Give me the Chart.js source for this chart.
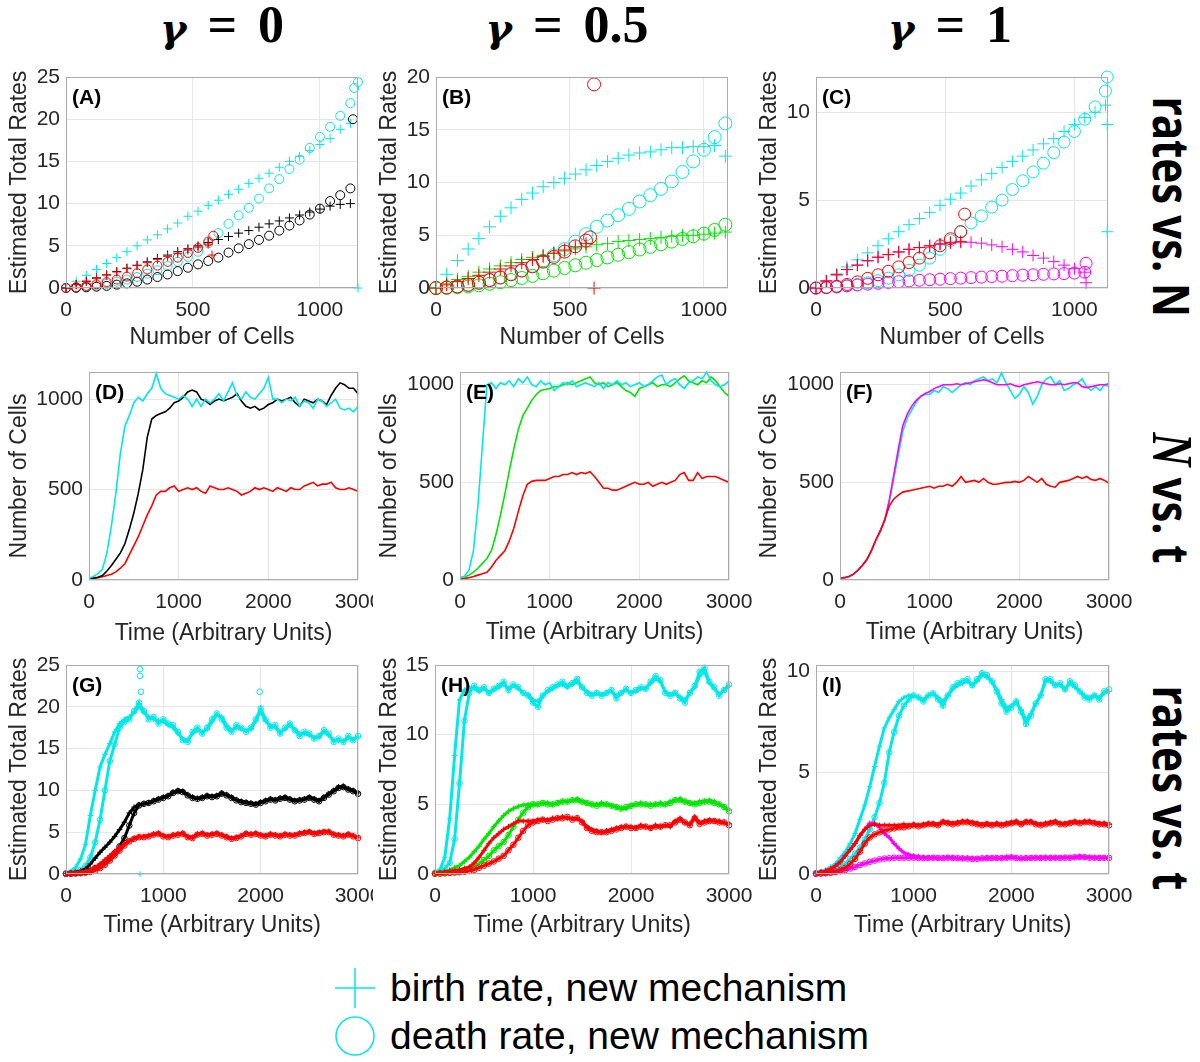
<!DOCTYPE html>
<html>
<head>
<meta charset="utf-8">
<script src="https://cdn.jsdelivr.net/npm/chart.js@4.4.1/dist/chart.umd.min.js"></script>
<style>
  body { margin: 0; background: #fff; }
  #fig { position: relative; width: 1200px; height: 1062px; overflow: hidden; background: #fff; }
  .col { position: absolute; top: 0; transform: translateX(-50%); font: bold 52px "Liberation Serif", serif; line-height: 50px; word-spacing: 8px; white-space: nowrap; color: #000; }
  .col i { font-family: "DejaVu Serif", serif; font-size: 40px; }
  .row { position: absolute; font: bold 50px "Noto Sans", sans-serif; line-height: 50px; white-space: nowrap; color: #000;
         transform: translate(-50%, -50%) rotate(90deg) scaleX(0.84); }
  .row i { font-family: "Liberation Serif", serif; font-size: 56px; }
  .leg { position: absolute; left: 390px; font: 39px "Liberation Sans", Arial, sans-serif; line-height: 39px; white-space: nowrap; color: #000; }
  canvas { position: absolute; }
</style>
</head>
<body>
<div id="fig">
  <div class="col" style="left:222px"><i>γ</i> = 0</div>
  <div class="col" style="left:567px"><i>γ</i> = 0.5</div>
  <div class="col" style="left:950px"><i>γ</i> = 1</div>

  <div class="row" style="left:1172px;top:207px">rates vs. N</div>
  <div class="row" style="left:1172px;top:498px"><i>N</i> vs. t</div>
  <div class="row" style="left:1172px;top:788px">rates vs. t</div>

  <svg style="position:absolute;left:335px;top:968px" width="40" height="40">
    <line x1="0" y1="20" x2="40" y2="20" stroke="rgb(0,232,232)" stroke-width="1.5"/>
    <line x1="20" y1="0" x2="20" y2="40" stroke="rgb(0,232,232)" stroke-width="1.5"/>
  </svg>
  <div class="leg" style="top:968px">birth rate, new mechanism</div>
  <svg style="position:absolute;left:334px;top:1015px" width="42" height="42">
    <circle cx="21" cy="21" r="19" fill="none" stroke="rgb(0,232,232)" stroke-width="1.5"/>
  </svg>
  <div class="leg" style="top:1016px">death rate, new mechanism</div>
</div>

<script>
// ---------- data ----------
// number of cells (x of the "rates vs. N" panels)
const N = [0,40,80,120,160,200,240,280,320,360,400,440,480,520,560,600,640,680,720,760,800,840,880,920,960,1000,1040,1080,1120];
// time (x of the "vs. t" panels)
const T = [0,50,100,150,200,250,300,350,400,450,
  500,550,600,650,700,750,800,850,900,950,
  1000,1050,1100,1150,1200,1250,1300,1350,1400,1450,
  1500,1550,1600,1650,1700,1750,1800,1850,1900,1950,
  2000,2050,2100,2150,2200,2250,2300,2350,2400,2450,
  2500,2550,2600,2650,2700,2750,2800,2850,2900,2950,
  3000];

// tick labels
const cellTicks = [0,500,1000];
const timeTicks = [0,1000,2000,3000];
const countTicks = [0,500,1000];
const rateTicks25 = [0,5,10,15,20,25];
const rateTicks20 = [0,5,10,15,20];
const rateTicks15 = [0,5,10,15];
const rateTicks10 = [0,5,10];

// (A) gamma = 0, rates vs N
const aBirthCyan = [0,0.8,1.5,2.2,2.9,3.6,4.3,5.0,5.7,6.3,7.0,7.7,8.5,9.1,9.8,10.4,11.1,11.7,12.4,13.0,13.6,14.3,15.0,15.6,16.3,17.0,17.7,18.8,19.5];
const aDeathCyan = [0,0.05,0.15,0.3,0.5,0.75,1.0,1.3,1.7,2.1,2.6,3.1,3.7,4.3,5.3,6.5,7.6,8.6,9.5,10.6,11.8,12.9,14.1,15.2,16.6,17.9,19.1,20.4,21.9];
const aBirthBlack = [0,0.4,0.8,1.2,1.55,1.95,2.35,2.7,3.1,3.5,3.9,4.3,4.65,5.0,5.4,5.75,6.1,6.5,6.8,7.2,7.6,7.95,8.3,8.65,9.0,9.35,9.7,9.9,10.0];
const aDeathBlack = [0,0.02,0.08,0.15,0.25,0.4,0.55,0.75,1.0,1.3,1.6,2.0,2.4,2.8,3.2,3.6,4.2,4.7,5.2,5.7,6.2,6.8,7.4,8.0,8.7,9.4,10.3,11.0,11.8];
const aBirthRed = [0,0.4,0.8,1.15,1.55,1.9,2.3,2.65,3.0,3.4,3.75,4.1,4.5,4.85,5.2];
const aDeathRed = [0,0.1,0.25,0.45,0.7,1.0,1.35,1.75,2.2,2.65,3.1,3.6,4.15,4.75,5.5];
const aOutCyanBirthN = [1150], aOutCyanBirth = [0];
const aOutCyanDeathN = [1135,1150], aOutCyanDeath = [23.7,24.4];
const aOutBlackDeathN = [1130], aOutBlackDeath = [20];
const aOutRedBirthN = [575], aOutRedBirth = [3.9];
const aOutRedDeathN = [580], aOutRedDeath = [6.2];

// (B) gamma = 0.5, rates vs N
const bBirthCyan = [0,1.3,2.6,3.7,4.7,5.8,6.8,7.6,8.4,9.0,9.6,10.0,10.4,10.8,11.2,11.6,12.0,12.3,12.6,12.8,12.9,13.1,13.3,13.3,13.4,13.4,13.5,12.5];
const bDeathCyan = [0,0.05,0.15,0.3,0.5,0.75,1.0,1.35,1.7,2.1,2.6,3.1,3.7,4.4,5.1,5.8,6.4,6.9,7.5,8.2,8.8,9.4,10.1,11.0,12.0,13.1,14.3,15.6];
const bBirthGreen = [0,0.4,0.8,1.1,1.5,1.8,2.1,2.4,2.7,2.9,3.1,3.3,3.5,3.7,3.9,4.1,4.2,4.4,4.5,4.6,4.7,4.8,4.9,5.0,5.0,5.1,5.2,5.3];
const bDeathGreen = [0,0.02,0.08,0.15,0.25,0.4,0.55,0.75,0.95,1.15,1.4,1.65,1.9,2.15,2.4,2.65,2.9,3.15,3.4,3.65,3.9,4.15,4.4,4.65,4.9,5.15,5.5,6.0];
const bBirthRed = [0,0.3,0.6,0.9,1.2,1.5,1.8,2.1,2.4,2.7,3.0,3.3,3.6,3.9,4.2];
const bDeathRed = [0,0.05,0.15,0.3,0.5,0.75,1.0,1.3,1.65,2.05,2.5,2.95,3.45,3.95,4.5];
const bOutRedBirthN = [590], bOutRedBirth = [0];
const bOutRedDeathN = [575,590], bOutRedDeath = [4.8,19.3];

// (C) gamma = 1, rates vs N
const cBirthCyan = [0,0.4,0.8,1.2,1.6,2.0,2.4,2.8,3.2,3.6,3.95,4.3,4.7,5.05,5.4,5.8,6.15,6.5,6.85,7.2,7.5,7.85,8.2,8.5,8.9,9.3,9.7,10.0,10.4];
const cDeathCyan = [0,0.02,0.06,0.12,0.2,0.3,0.42,0.56,0.75,1.0,1.3,1.7,2.2,2.7,3.2,3.7,4.1,4.6,5.0,5.6,6.1,6.6,7.1,7.7,8.3,8.9,9.6,10.3,11.2];
const cBirthRed = [0,0.4,0.75,1.05,1.3,1.55,1.75,1.9,2.05,2.2,2.3,2.4,2.5,2.6,2.65];
const cDeathRed = [0,0.03,0.1,0.2,0.35,0.55,0.75,0.95,1.2,1.45,1.7,2.0,2.4,2.8,3.2];
const cBirthMagenta = [0,0.4,0.75,1.05,1.3,1.55,1.75,1.9,2.05,2.2,2.3,2.4,2.5,2.55,2.6,2.6,2.55,2.45,2.35,2.2,2.05,1.85,1.7,1.5,1.3,1.1,0.9];
const cDeathMagenta = [0,0.03,0.07,0.12,0.17,0.22,0.27,0.32,0.36,0.4,0.44,0.47,0.5,0.53,0.56,0.59,0.62,0.65,0.67,0.7,0.73,0.75,0.78,0.8,0.82,0.85,0.9];
const cOutCyanBirthN = [1127,1127], cOutCyanBirth = [9.3,3.2];
const cOutCyanDeathN = [1127], cOutCyanDeath = [12.0];
const cOutRedDeathN = [575], cOutRedDeath = [4.2];
const cOutMagBirthN = [1045], cOutMagBirth = [0.3];
const cOutMagDeathN = [1045], cOutMagDeath = [1.4];

// (D) gamma = 0, N vs t
const dCyan = [10,20,35,60,150,300,480,700,850,910,
  980,1010,990,1030,1060,1140,1060,1030,1020,1010,
  1000,1020,1000,960,1000,960,1000,980,1000,1030,
  990,1040,1090,1020,1000,1040,1010,1000,1030,1060,
  1120,1000,1000,980,1000,990,1010,960,990,980,
  950,1000,990,960,980,1000,950,940,950,930,
  960];
const dBlack = [10,12,15,25,50,80,115,150,200,280,
  370,480,610,790,890,910,920,930,950,980,
  990,1010,1040,1050,1040,1000,990,970,990,1000,
  990,1000,1010,1030,990,960,950,960,940,950,
  970,980,1000,990,1000,1010,980,960,1000,990,
  980,1000,990,970,1020,1060,1090,1080,1060,1060,
  1030];
const dRed = [5,8,12,18,25,32,45,65,90,140,
  190,240,300,360,410,470,490,490,510,520,
  490,500,510,500,510,490,480,520,510,500,
  500,510,500,490,470,480,490,510,500,510,
  500,490,510,500,490,510,500,500,520,530,
  540,520,530,530,540,510,500,500,510,500,
  490];

// (E) gamma = 0.5, N vs t
const eCyan = [10,20,50,150,380,690,1000,1010,980,1010,
  1000,1020,990,1030,1010,1040,1000,990,1020,1000,
  1010,970,990,1010,1000,1020,990,1000,1010,1000,
  990,1010,980,1010,1000,1020,1000,1010,990,1000,
  1010,990,1000,1020,1040,1050,1000,1020,1030,1000,
  980,1010,1020,1040,1030,1065,1020,1000,990,1000,
  1020];
const eGreen = [10,15,25,40,60,85,110,150,230,330,
  440,560,670,770,840,880,920,950,970,975,
  980,990,990,1000,1010,1000,1010,1020,1030,1040,
  1010,1000,1010,990,1000,1010,990,970,960,940,
  980,990,1000,1010,990,1000,1000,990,1010,1030,
  1045,1020,1010,1000,1020,1010,1040,1020,990,960,
  940];
const eRed = [5,8,12,18,25,32,40,65,100,125,
  150,200,265,350,430,490,505,510,510,510,
  520,530,530,540,540,550,540,550,545,555,
  530,500,470,470,460,460,470,480,490,500,
  490,490,500,480,490,500,490,500,510,540,
  550,510,510,550,520,530,530,530,520,510,
  500];

// (F) gamma = 1, N vs t
const fMagenta = [10,12,18,30,50,75,105,150,205,255,
  310,410,540,670,790,850,890,920,940,955,
  965,980,990,1000,1000,1000,1005,1000,1005,1010,
  1015,1020,1025,1020,1010,1000,1000,1000,1005,995,
  990,1000,1005,1010,1015,1010,1005,1000,1000,1005,
  1000,1005,1010,1010,990,985,990,995,1000,1000,
  1005];
const fCyan = [10,12,18,30,50,75,105,150,205,250,
  305,400,520,640,760,830,870,910,940,950,
  950,970,960,990,980,960,980,1000,1010,1000,
  1020,1030,1040,1020,1030,1010,1060,1010,970,930,
  950,990,960,900,940,1000,1030,1040,1000,1020,
  970,980,1000,1010,1030,990,970,990,970,1000,
  990];
const fRed = [10,12,18,30,50,75,105,150,205,250,
  310,380,415,435,450,455,460,465,470,475,
  480,470,480,480,490,480,500,530,500,505,
  510,500,520,500,490,490,495,500,500,505,
  500,510,530,515,500,520,490,480,475,500,
  505,510,520,530,520,530,515,510,520,510,
  495];

// (G) gamma = 0, rates vs t
const gBirthCyan = [0.1,0.3,0.8,1.8,3.5,7,10,12.8,14.3,15.6,
  17,18,18.5,18.8,19.3,20,19.3,18.8,18.5,18.3,
  18.2,17.8,17.5,16.8,16.2,16,16.8,17.2,17,17.3,
  18.2,19,18.8,17.8,17.2,17.5,17.3,17.2,17.3,18.3,
  19.5,18.3,17.8,17.5,17,17.3,17.8,17.3,16.8,16.8,
  16.6,16.3,16.4,17,16.6,16,16,15.9,16.3,16.1,
  16.4];
const gDeathCyan = [0.1,0.2,0.3,0.5,1.0,2.0,3.8,6.5,10,13.5,
  15.5,17.5,18.2,18.5,19.5,20.5,19.5,18.5,18.8,18,
  18.5,18,17.8,17,16,15.8,17,17.5,16.8,17.5,
  18.5,19.2,18.5,17.5,17,17.8,17.5,17,17.5,18.5,
  19.8,18.5,17.5,17.8,16.8,17.5,18,17.2,16.5,17,
  16.8,16.2,16.5,17.2,16.8,15.8,16.2,15.8,16.5,16,
  16.5];
const gBirthBlack = [0.05,0.1,0.2,0.35,0.6,1.2,1.9,2.6,3.2,3.8,
  4.5,5.3,6.2,7.3,8.0,8.3,8.4,8.5,8.8,9.0,
  9.2,9.4,9.8,10.0,9.9,9.5,9.2,9.0,9.2,9.4,
  9.3,9.4,9.7,9.5,9.2,8.9,8.7,8.6,8.5,8.4,
  8.6,8.8,9.0,8.9,9.1,9.2,9.0,8.8,8.9,9.0,
  9.2,9.0,8.8,9.2,9.6,10.0,10.4,10.5,10.2,10.0,
  9.7];
const gDeathBlack = [0.02,0.05,0.1,0.15,0.25,0.4,0.7,1.0,1.4,1.9,
  2.5,3.3,4.3,5.8,7.3,8.2,8.4,8.5,8.7,8.9,
  9.1,9.3,9.7,9.9,9.8,9.4,9.1,9.0,9.1,9.3,
  9.2,9.3,9.6,9.4,9.1,8.8,8.6,8.5,8.4,8.3,
  8.5,8.7,8.9,8.8,9.0,9.1,8.9,8.7,8.8,8.9,
  9.1,8.9,8.7,9.1,9.5,9.9,10.3,10.4,10.1,9.9,
  9.6];
const gBirthRed = [0.05,0.1,0.15,0.25,0.35,0.5,0.8,1.2,1.7,2.2,
  2.7,3.2,3.6,4.0,4.3,4.5,4.5,4.6,4.8,4.9,
  4.6,4.5,4.7,4.8,4.9,4.5,4.4,4.8,4.9,4.7,
  4.8,4.9,4.7,4.5,4.3,4.4,4.6,4.9,4.8,4.9,
  4.7,4.6,4.8,4.7,4.6,4.8,4.7,4.7,4.9,5.0,
  5.1,4.9,5.0,5.1,5.1,4.8,4.7,4.6,4.8,4.6,
  4.4];
const gDeathRed = [0.02,0.04,0.06,0.1,0.15,0.25,0.4,0.7,1.1,1.6,
  2.2,2.8,3.4,3.9,4.2,4.4,4.4,4.5,4.7,4.8,
  4.5,4.4,4.6,4.7,4.8,4.4,4.3,4.7,4.8,4.6,
  4.7,4.8,4.6,4.4,4.2,4.3,4.5,4.8,4.7,4.8,
  4.6,4.5,4.7,4.6,4.5,4.7,4.6,4.6,4.8,4.9,
  5.0,4.8,4.9,5.0,5.0,4.7,4.6,4.5,4.7,4.5,
  4.3];
const gOutCyanDeathT = [760,760,770,1990], gOutCyanDeath = [24.5,23.7,21.8,21.8];
const gOutCyanBirthT = [760], gOutCyanBirth = [0];

// (H) gamma = 0.5, rates vs t
const hBirthCyan = [0.1,0.3,1.2,4.0,8.5,12.5,13.2,13.4,13.3,13.1,
  13.3,13.0,13.2,13.4,13.6,13.3,13.5,13.3,13.0,12.9,
  12.5,12.4,12.8,13.1,13.3,13.5,13.6,13.4,13.6,13.8,
  13.4,13.1,12.9,13.0,12.9,13.0,13.1,12.8,13.0,13.2,
  13.0,13.1,13.3,13.3,13.7,14.0,13.8,13.1,12.9,13.0,
  12.7,12.5,13.0,13.4,14.2,14.5,13.7,13.3,12.9,13.2,
  13.5];
const hDeathCyan = [0.1,0.2,0.4,0.8,2.5,6.5,11,13,13.5,13.2,
  13.4,13.0,13.3,13.5,13.8,13.2,13.6,13.4,13.0,12.8,
  12.3,12.0,12.8,13.2,13.4,13.6,13.8,13.5,13.7,14.0,
  13.4,13.0,12.8,13.0,12.8,13.0,13.2,12.6,13.0,13.3,
  13.0,13.2,13.4,13.3,13.8,14.2,13.9,13.0,12.8,13.0,
  12.6,12.3,13.0,13.5,14.5,14.8,13.8,13.4,12.8,13.2,
  13.6];
const hBirthGreen = [0.05,0.1,0.2,0.3,0.45,0.6,0.9,1.2,1.6,2.0,
  2.5,2.9,3.4,3.8,4.2,4.5,4.7,4.85,4.95,5.0,
  5.0,5.0,5.1,5.1,5.0,5.1,5.2,5.2,5.3,5.4,
  5.2,5.1,5.0,5.0,5.1,5.0,4.9,4.8,4.7,4.7,
  4.9,5.0,5.1,5.0,5.0,5.0,5.1,5.0,5.2,5.3,
  5.4,5.2,5.1,5.1,5.2,5.2,5.3,5.2,5.0,4.8,
  4.6];
const hDeathGreen = [0.02,0.04,0.07,0.1,0.15,0.2,0.3,0.4,0.55,0.75,
  1.0,1.3,1.7,2.0,2.3,2.8,3.4,3.9,4.4,4.8,
  5.0,5.0,5.1,5.0,5.0,5.1,5.2,5.2,5.3,5.3,
  5.2,5.1,5.0,4.9,5.0,5.0,4.9,4.8,4.7,4.8,
  4.9,5.0,5.0,5.0,4.9,5.0,5.0,5.0,5.1,5.3,
  5.3,5.2,5.1,5.0,5.1,5.2,5.2,5.1,5.0,4.8,
  4.5];
const hBirthRed = [0.05,0.1,0.15,0.2,0.25,0.3,0.4,0.5,0.8,1.2,
  1.7,2.2,2.6,2.9,3.2,3.4,3.6,3.8,3.8,3.8,
  3.8,3.9,3.9,3.9,4.0,4.0,4.1,4.0,4.0,4.0,
  3.8,3.4,3.2,3.1,3.0,3.1,3.2,3.3,3.4,3.4,
  3.4,3.3,3.5,3.4,3.3,3.5,3.4,3.5,3.4,3.8,
  4.0,3.7,3.6,4.1,3.7,3.8,3.9,3.8,3.8,3.7,
  3.6];
const hDeathRed = [0.02,0.03,0.05,0.08,0.1,0.13,0.17,0.22,0.3,0.45,
  0.6,0.75,0.9,1.1,1.3,1.7,2.1,2.6,3.1,3.5,
  3.7,3.8,3.9,3.8,3.9,4.0,4.0,4.1,3.9,4.0,
  3.7,3.3,3.1,3.0,3.0,3.0,3.1,3.2,3.3,3.4,
  3.3,3.3,3.4,3.4,3.3,3.4,3.4,3.5,3.5,3.7,
  3.9,3.7,3.5,4.0,3.6,3.7,3.8,3.8,3.7,3.7,
  3.5];

// (I) gamma = 1, rates vs t
const iBirthCyan = [0.05,0.1,0.2,0.35,0.5,0.8,1.1,1.5,2.0,2.7,
  3.4,4.3,5.3,6.3,7.2,7.7,8.1,8.5,8.7,8.8,
  8.8,8.7,8.6,8.8,8.9,8.7,8.5,8.8,9.1,9.3,
  9.4,9.5,9.3,9.5,9.8,9.7,9.5,9.1,8.6,8.2,
  8.3,8.5,8.1,7.6,7.9,8.4,8.8,9.5,9.5,9.3,
  9.3,9.1,9.4,9.2,9.0,8.8,8.7,8.8,8.7,8.9,
  9.0];
const iDeathCyan = [0.05,0.08,0.12,0.2,0.3,0.4,0.5,0.75,1.0,1.3,
  1.7,2.2,2.8,3.5,4.5,6.0,7.0,7.8,8.3,8.6,
  8.8,8.7,8.5,8.8,8.9,8.6,8.3,8.8,9.2,9.4,
  9.5,9.6,9.3,9.6,9.9,9.8,9.5,9.0,8.4,8.0,
  8.2,8.5,8.0,7.4,7.8,8.4,8.8,9.6,9.6,9.3,
  9.4,9.1,9.5,9.3,9.0,8.7,8.6,8.8,8.6,9.0,
  9.1];
const iBirthRed = [0.05,0.1,0.15,0.25,0.4,0.6,0.9,1.2,1.5,1.9,
  2.2,2.4,2.45,2.4,2.4,2.4,2.4,2.4,2.45,2.4,
  2.45,2.4,2.45,2.5,2.5,2.45,2.6,2.55,2.5,2.55,
  2.6,2.6,2.55,2.5,2.45,2.5,2.45,2.5,2.45,2.5,
  2.55,2.6,2.5,2.6,2.6,2.5,2.45,2.5,2.55,2.6,
  2.5,2.5,2.55,2.6,2.55,2.6,2.6,2.55,2.5,2.5,
  2.45];
const iDeathRed = [0.02,0.03,0.05,0.08,0.12,0.2,0.3,0.5,0.75,1.1,
  1.5,1.8,1.95,2.05,2.15,2.2,2.25,2.3,2.3,2.35,
  2.4,2.35,2.4,2.45,2.45,2.4,2.55,2.5,2.45,2.5,
  2.55,2.55,2.5,2.45,2.4,2.45,2.4,2.45,2.4,2.45,
  2.5,2.55,2.45,2.55,2.55,2.45,2.4,2.45,2.5,2.55,
  2.45,2.45,2.5,2.55,2.5,2.55,2.55,2.5,2.45,2.45,
  2.4];
const iBirthMagenta = [0.05,0.1,0.15,0.25,0.4,0.6,0.9,1.2,1.5,1.9,
  2.2,2.5,2.5,2.3,2.0,1.8,1.5,1.25,1.05,0.95,
  0.9,0.85,0.82,0.8,0.8,0.78,0.8,0.82,0.8,0.79,
  0.78,0.8,0.77,0.76,0.78,0.8,0.8,0.79,0.8,0.82,
  0.85,0.8,0.78,0.8,0.79,0.8,0.8,0.81,0.8,0.8,
  0.8,0.82,0.8,0.84,0.86,0.84,0.82,0.8,0.8,0.8,
  0.8];
const iDeathMagenta = [0.01,0.02,0.04,0.06,0.1,0.14,0.2,0.27,0.35,0.45,
  0.52,0.6,0.66,0.72,0.76,0.78,0.8,0.8,0.8,0.8,
  0.8,0.79,0.78,0.79,0.8,0.79,0.78,0.8,0.79,0.78,
  0.77,0.76,0.74,0.75,0.77,0.78,0.78,0.79,0.78,0.8,
  0.82,0.79,0.77,0.78,0.79,0.8,0.79,0.8,0.79,0.8,
  0.79,0.8,0.8,0.82,0.84,0.83,0.8,0.8,0.79,0.8,
  0.79];

// ---------- drawing ----------
const CYAN = 'rgb(0,232,232)', RED = 'rgb(255,0,0)', BLACK = '#000',
      GREEN = 'rgb(0,230,0)', MAGENTA = 'rgb(255,0,255)';
const INK = '#262626';
const FONT = '"Liberation Sans", Arial, sans-serif';
const N15 = N.slice(0, 15), NB = N.slice(0, 28), NM = N.slice(0, 27);

const RATES = 'Estimated Total Rates', CELLS = 'Number of Cells', TIME = 'Time (Arbitrary Units)';

const panels = [
  {label:'(A)', box:[66,77,358,288], yW:60, xH:63, padR:30, xMax:1150, xTicks:cellTicks, yMax:25, yTicks:rateTicks25, xTitle:CELLS, yTitle:RATES, r:4.5,
   sets:[[N15,aBirthRed,RED,'plus'],[N15,aDeathRed,RED,'ring'],[aOutRedBirthN,aOutRedBirth,RED,'plus'],[aOutRedDeathN,aOutRedDeath,RED,'ring'],
         [N,aBirthBlack,BLACK,'plus'],[N,aDeathBlack,BLACK,'ring'],[aOutBlackDeathN,aOutBlackDeath,BLACK,'ring'],
         [N,aBirthCyan,CYAN,'plus'],[N,aDeathCyan,CYAN,'ring'],[aOutCyanBirthN,aOutCyanBirth,CYAN,'plus'],[aOutCyanDeathN,aOutCyanDeath,CYAN,'ring']]},
  {label:'(B)', box:[436,77,728,288], yW:60, xH:63, padR:30, xMax:1090, xTicks:cellTicks, yMax:20, yTicks:rateTicks20, xTitle:CELLS, yTitle:RATES, r:6.5,
   sets:[[N15,bBirthRed,RED,'plus'],[N15,bDeathRed,RED,'ring'],[bOutRedBirthN,bOutRedBirth,RED,'plus'],[bOutRedDeathN,bOutRedDeath,RED,'ring'],
         [NB,bBirthGreen,GREEN,'plus'],[NB,bDeathGreen,GREEN,'ring'],
         [NB,bBirthCyan,CYAN,'plus'],[NB,bDeathCyan,CYAN,'ring']]},
  {label:'(C)', box:[816,77,1108,288], yW:60, xH:63, padR:25, xMax:1130, xTicks:cellTicks, yMax:12, yTicks:rateTicks10, xTitle:CELLS, yTitle:RATES, r:6,
   sets:[[N15,cBirthRed,RED,'plus'],[N15,cDeathRed,RED,'ring'],[cOutRedDeathN,cOutRedDeath,RED,'ring'],
         [NM,cBirthMagenta,MAGENTA,'plus'],[NM,cDeathMagenta,MAGENTA,'ring'],[cOutMagBirthN,cOutMagBirth,MAGENTA,'plus'],[cOutMagDeathN,cOutMagDeath,MAGENTA,'ring'],
         [N,cBirthCyan,CYAN,'plus'],[N,cDeathCyan,CYAN,'ring'],[cOutCyanBirthN,cOutCyanBirth,CYAN,'plus'],[cOutCyanDeathN,cOutCyanDeath,CYAN,'ring']]},
  {label:'(D)', box:[89,372,358,580], yW:83, xH:67, padR:15, xMax:3000, xTicks:timeTicks, yMax:1150, yTicks:countTicks, xTitle:TIME, yTitle:CELLS, r:0,
   sets:[[T,dCyan,CYAN,'line'],[T,dBlack,BLACK,'line'],[T,dRed,RED,'line']]},
  {label:'(E)', box:[460,372,729,580], yW:84, xH:66, padR:30, xMax:3000, xTicks:timeTicks, yMax:1065, yTicks:countTicks, xTitle:TIME, yTitle:CELLS, r:0,
   sets:[[T,eRed,RED,'line'],[T,eCyan,CYAN,'line'],[T,eGreen,GREEN,'line']]},
  {label:'(F)', box:[840,372,1109,580], yW:84, xH:66, padR:30, xMax:3000, xTicks:timeTicks, yMax:1065, yTicks:countTicks, xTitle:TIME, yTitle:CELLS, r:0,
   sets:[[T,fRed,RED,'line'],[T,fMagenta,MAGENTA,'line'],[T,fCyan,CYAN,'line']]},
  {label:'(G)', box:[66,665,358,874], yW:60, xH:65, padR:15, xMax:3000, xTicks:timeTicks, yMax:25, yTicks:rateTicks25, xTitle:TIME, yTitle:RATES, r:2.8,
   sets:[[T,gBirthRed,RED,'plusBand'],[T,gDeathRed,RED,'ringBand'],
         [T,gBirthBlack,BLACK,'plusBand'],[T,gDeathBlack,BLACK,'ringBand'],
         [T,gBirthCyan,CYAN,'plusBand'],[T,gDeathCyan,CYAN,'ringBand'],
         [gOutCyanBirthT,gOutCyanBirth,CYAN,'plus'],[gOutCyanDeathT,gOutCyanDeath,CYAN,'ring']]},
  {label:'(H)', box:[435,665,729,874], yW:59, xH:65, padR:30, xMax:3000, xTicks:timeTicks, yMax:15, yTicks:rateTicks15, xTitle:TIME, yTitle:RATES, r:2.8,
   sets:[[T,hBirthRed,RED,'plusBand'],[T,hDeathRed,RED,'ringBand'],
         [T,hBirthGreen,GREEN,'plusBand'],[T,hDeathGreen,GREEN,'ringBand'],
         [T,hBirthCyan,CYAN,'plusBand'],[T,hDeathCyan,CYAN,'ringBand']]},
  {label:'(I)', box:[816,665,1109,874], yW:60, xH:65, padR:30, xMax:3000, xTicks:timeTicks, yMax:10.3, yTicks:rateTicks10, xTitle:TIME, yTitle:RATES, r:2.8,
   sets:[[T,iBirthRed,RED,'plusBand'],[T,iDeathRed,RED,'ringBand'],
         [T,iBirthMagenta,MAGENTA,'plusBand'],[T,iDeathMagenta,MAGENTA,'ringBand'],
         [T,iBirthCyan,CYAN,'plusBand'],[T,iDeathCyan,CYAN,'ringBand']]}
];

function dataset(xs, ys, color, kind, r) {
  const line = kind === 'line', band = kind.endsWith('Band');
  return {
    data: ys.map((y, i) => ({x: xs[i], y: y})),
    showLine: line || band,
    borderColor: color,
    backgroundColor: 'rgba(0,0,0,0)',
    borderWidth: line ? 1.6 : 3,
    pointStyle: kind.startsWith('plus') ? 'cross' : 'circle',
    pointRadius: line ? 0 : r,
    pointBorderWidth: 1,
    pointBorderColor: color,
    pointBackgroundColor: 'rgba(0,0,0,0)',
    pointHoverRadius: 0,
    clip: false
  };
}

// box round the plot area and the (A)..(I) tag
const frame = {
  id: 'frame',
  afterDraw(chart, args, opts) {
    const {ctx, chartArea: a} = chart;
    ctx.save();
    ctx.strokeStyle = '#ababab';
    ctx.lineWidth = 1;
    ctx.strokeRect(a.left + 0.5, a.top + 0.5, a.right - a.left - 1, a.bottom - a.top - 1);
    ctx.fillStyle = '#000';
    ctx.font = 'bold 21px ' + FONT;
    ctx.textBaseline = 'middle';
    ctx.fillText(opts.label, a.left + 6, a.top + 21);
    ctx.restore();
  }
};

const fig = document.getElementById('fig');
const PADT = 14;

for (const p of panels) {
  const [l, t, r, b] = p.box;
  const w = p.yW + (r - l) + p.padR, h = PADT + (b - t) + p.xH;
  const canvas = document.createElement('canvas');
  canvas.width = w; canvas.height = h;
  canvas.style.left = (l - p.yW) + 'px';
  canvas.style.top = (t - PADT) + 'px';
  canvas.style.width = w + 'px';
  canvas.style.height = h + 'px';
  fig.appendChild(canvas);

  new Chart(canvas, {
    type: 'scatter',
    data: { datasets: p.sets.map(s => dataset(s[0], s[1], s[2], s[3], p.r)) },
    options: {
      responsive: false,
      animation: false,
      devicePixelRatio: 1,
      layout: { autoPadding: false, padding: { left: 0, top: PADT, right: p.padR, bottom: 0 } },
      elements: { line: { tension: 0 } },
      plugins: { legend: { display: false }, tooltip: { enabled: false }, frame: { label: p.label } },
      scales: {
        x: {
          type: 'linear', min: 0, max: p.xMax,
          afterBuildTicks(s) { s.ticks = p.xTicks.map(v => ({value: v})); },
          ticks: { padding: 10, maxRotation: 0, autoSkip: false, callback: v => String(v),
                   color: INK, font: { family: FONT, size: 21 } },
          grid: { color: '#e6e6e6', drawTicks: false },
          border: { display: false },
          title: { display: true, text: p.xTitle, color: INK, font: { family: FONT, size: 23 }, padding: 0 },
          afterFit(s) { s.height = p.xH; s.paddingLeft = 0; s.paddingRight = 0; }
        },
        y: {
          type: 'linear', min: 0, max: p.yMax,
          afterBuildTicks(s) { s.ticks = p.yTicks.map(v => ({value: v})); },
          ticks: { padding: 6, callback: v => String(v),
                   color: INK, font: { family: FONT, size: 21 } },
          grid: { color: '#e6e6e6', drawTicks: false },
          border: { display: false },
          title: { display: true, text: p.yTitle, color: INK, font: { family: FONT, size: 23 }, padding: 0 },
          afterFit(s) { s.width = p.yW; s.paddingTop = 0; s.paddingBottom = 0; }
        }
      }
    },
    plugins: [frame]
  });
}
</script>
</body>
</html>
